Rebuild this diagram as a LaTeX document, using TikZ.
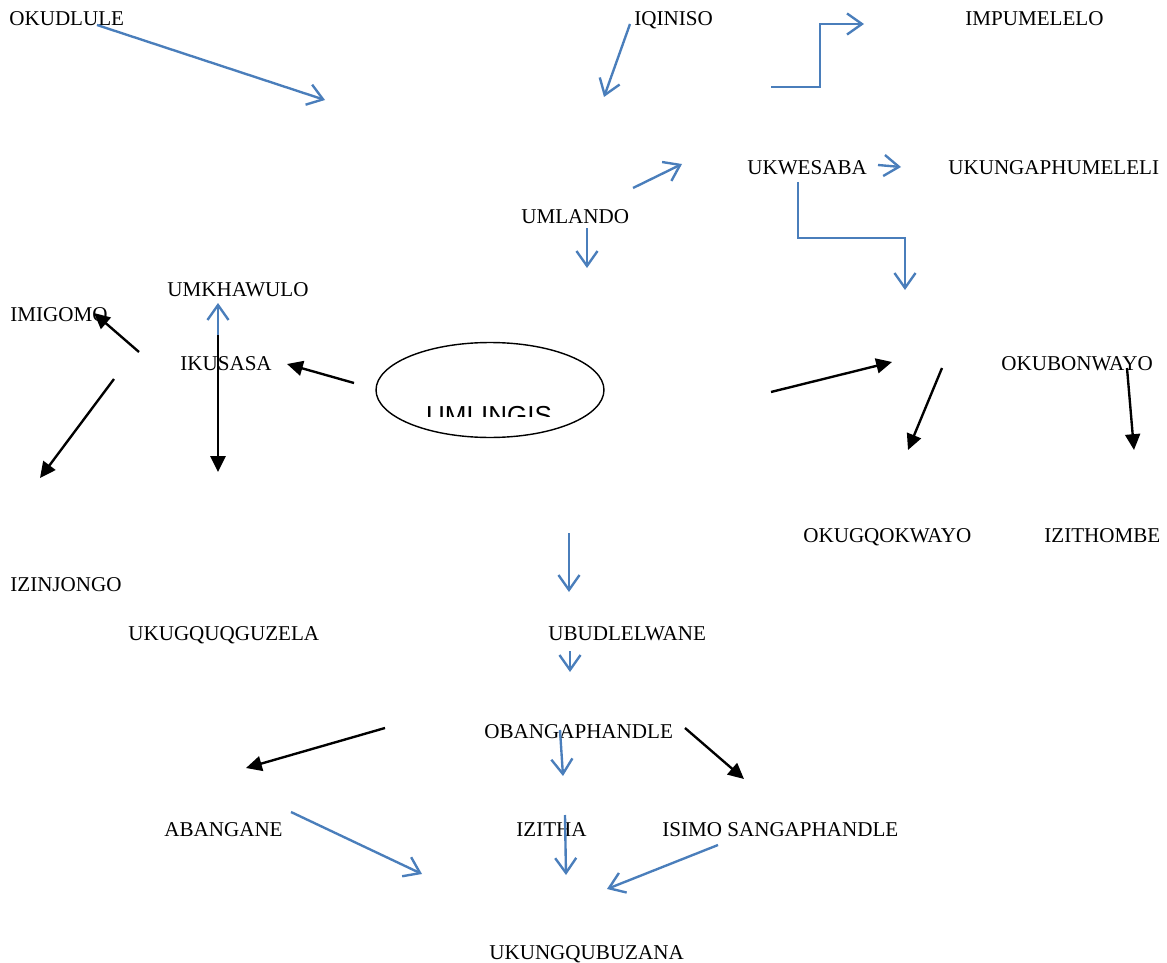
\documentclass[tikz,border=0pt]{standalone}
\usepackage{fontspec}
\setmainfont{Liberation Serif}
\setsansfont{Liberation Sans}
\usetikzlibrary{arrows.meta,shapes.geometric}
\definecolor{wordblue}{HTML}{4A7EBB}

\begin{document}
\begin{tikzpicture}[x=0.02cm, y=-0.02cm,
  word/.style={font=\fontsize{12}{14}\selectfont, inner sep=0pt, anchor=base west},
  bluearrow/.style={draw=wordblue, line width=1.35pt,
    -{Straight Barb[length=8.5pt,width=12pt,line width=1.35pt]}},
  blackarrow/.style={draw=black, line width=1.35pt,
    -{Triangle[length=9pt,width=8.5pt]}}]
\useasboundingbox (0,0) rectangle (1167,963);

\node[word] (okudlule) at (9,26) {OKUDLULE};
\node[word] (iqiniso) at (634,26) {IQINISO};
\node[word] (impumelelo) at (965,26) {IMPUMELELO};
\node[word] (ukwesaba) at (747,174) {UKWESABA};
\node[word] (ukungaphumeleli) at (948,174) {UKUNGAPHUMELELI};
\node[word] (umlando) at (521,223) {UMLANDO};
\node[word] (umkhawulo) at (167,296) {UMKHAWULO};
\node[word] (imigomo) at (10,321) {IMIGOMO};
\node[word] (ikusasa) at (180,370) {IKUSASA};
\node[word] (okubonwayo) at (1001,370) {OKUBONWAYO};
\node[word] (okugqokwayo) at (803,542) {OKUGQOKWAYO};
\node[word] (izithombe) at (1044,542) {IZITHOMBE};
\node[word] (izinjongo) at (10,591) {IZINJONGO};
\node[word] (ukugquqguzela) at (128,640) {UKUGQUQGUZELA};
\node[word] (ubudlelwane) at (548,640) {UBUDLELWANE};
\node[word] (obangaphandle) at (484,738) {OBANGAPHANDLE};
\node[word] (abangane) at (164,836) {ABANGANE};
\node[word] (izitha) at (516,836) {IZITHA};
\node[word] (isimo) at (662,836) {ISIMO SANGAPHANDLE};
\node[word] (ukungqubuzana) at (489,959) {UKUNGQUBUZANA};

\node[draw, ellipse, line width=0.8pt, minimum width=4.56cm, minimum height=1.9cm,
  inner sep=0pt] (umlingis) at (490,390) {};
\begin{scope}
\clip (376,342) rectangle (604,416);
\node[font=\sffamily\fontsize{14.8}{16}\selectfont, inner sep=0pt, anchor=base]
  (umlingistext) at (489,424) {UMLINGIS};
\end{scope}

\coordinate (okud-a) at (97,25);
\coordinate (okud-b) at (325,100);
\coordinate (iqin-a) at (630,24);
\coordinate (iqin-b) at (604,97);
\coordinate (impu-a) at (771,87);
\coordinate (impu-b) at (864,24);
\coordinate (umla-a) at (633,188);
\coordinate (umla-b) at (682,164);
\coordinate (ukwe-a) at (878,165);
\coordinate (ukwe-b) at (901,167);
\coordinate (ukwe-c) at (798,182);
\coordinate (ukwe-d) at (905,290);
\coordinate (umla-c) at (587,228);
\coordinate (umla-d) at (587,268);
\coordinate (umkh-a) at (218,335);
\coordinate (umkh-b) at (218,303);
\coordinate (umkh-c) at (218,472);
\coordinate (ubud-a) at (569,533);
\coordinate (ubud-b) at (569,592);
\coordinate (ubud-c) at (570,651);
\coordinate (ubud-d) at (570,672);
\coordinate (oban-a) at (560,730);
\coordinate (oban-b) at (563,776);
\coordinate (izit-a) at (565,815);
\coordinate (izit-b) at (566,875);
\coordinate (aban-a) at (291,812);
\coordinate (aban-b) at (422,874);
\coordinate (isim-a) at (718,845);
\coordinate (isim-b) at (607,889);

\coordinate (imig-a) at (139,352);
\coordinate (imig-b) at (94,313);
\coordinate (izin-a) at (114,379);
\coordinate (izin-b) at (40,478);
\coordinate (ikus-a) at (354,383);
\coordinate (ikus-b) at (287,364);
\coordinate (okub-a) at (771,392);
\coordinate (okub-b) at (892,362);
\coordinate (okug-a) at (942,368);
\coordinate (okug-b) at (908,450);
\coordinate (izth-a) at (1127,368);
\coordinate (izth-b) at (1134,450);
\coordinate (abng-a) at (385,728);
\coordinate (abng-b) at (246,768);
\coordinate (ismo-a) at (685,728);
\coordinate (ismo-b) at (744,779);

\draw[bluearrow] (okud-a) -- (okud-b);
\draw[bluearrow] (iqin-a) -- (iqin-b);
\draw[bluearrow] (impu-a) -- (820,87) -- (820,24) -- (impu-b);
\draw[bluearrow] (umla-a) -- (umla-b);
\draw[bluearrow] (ukwe-a) -- (ukwe-b);
\draw[bluearrow] (ukwe-c) -- (798,238) -- (905,238) -- (ukwe-d);
\draw[bluearrow] (umla-c) -- (umla-d);
\draw[bluearrow] (umkh-a) -- (umkh-b);
\draw[bluearrow] (ubud-a) -- (ubud-b);
\draw[bluearrow] (ubud-c) -- (ubud-d);
\draw[bluearrow] (oban-a) -- (oban-b);
\draw[bluearrow] (izit-a) -- (izit-b);
\draw[bluearrow] (aban-a) -- (aban-b);
\draw[bluearrow] (isim-a) -- (isim-b);

\draw[blackarrow] (imig-a) -- (imig-b);
\draw[blackarrow] (izin-a) -- (izin-b);
\draw[blackarrow] (ikus-a) -- (ikus-b);
\draw[blackarrow] (umkh-a) -- (umkh-c);
\draw[blackarrow] (okub-a) -- (okub-b);
\draw[blackarrow] (okug-a) -- (okug-b);
\draw[blackarrow] (izth-a) -- (izth-b);
\draw[blackarrow] (abng-a) -- (abng-b);
\draw[blackarrow] (ismo-a) -- (ismo-b);
\end{tikzpicture}
\end{document}
